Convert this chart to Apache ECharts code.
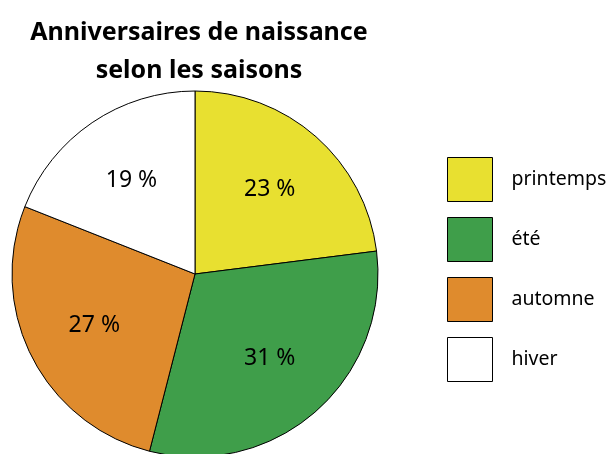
<!DOCTYPE html>
<html>
<head>
<meta charset="utf-8">
<script src="https://cdn.jsdelivr.net/npm/echarts@6/dist/echarts.min.js"></script>
<style>
  html, body { margin: 0; padding: 0; background: #fff; }
  #chart { width: 613px; height: 454px; }
</style>
</head>
<body>
<div id="chart"></div>
<script>
var seasons = ['printemps', 'été', 'automne', 'hiver'];
var percents = [23, 31, 27, 19];
var colors = ['#E8E030', '#3F9E4A', '#DF8B2D', '#FFFFFF'];

var myChart = echarts.init(document.getElementById('chart'));

var pieData = [];
var labelData = [];
seasons.forEach(function (name, i) {
    pieData.push({
        name: name,
        value: percents[i],
        itemStyle: { color: colors[i] }
    });
    labelData.push({ name: name, value: percents[i] });
});

var option = {
    animation: false,
    title: {
        text: 'Anniversaires de naissance\nselon les saisons',
        left: 194,
        textAlign: 'center',
        top: 9,
        textStyle: {
            fontFamily: 'Noto Sans',
            fontWeight: 'bold',
            fontSize: 25,
            lineHeight: 38,
            color: '#000'
        }
    },
    legend: {
        orient: 'vertical',
        left: 447,
        top: 157,
        padding: 0,
        itemWidth: 45,
        itemHeight: 44,
        itemGap: 15,
        icon: 'rect',
        data: seasons,
        itemStyle: { borderColor: '#000', borderWidth: 1 },
        textStyle: {
            fontFamily: 'Noto Sans',
            fontSize: 19.5,
            color: '#000',
            padding: [0, 0, 0, 14]
        }
    },
    series: [
        {
            name: 'saisons',
            type: 'pie',
            center: [195, 274],
            radius: [0, 183],
            startAngle: 90,
            clockwise: true,
            label: { show: false },
            labelLine: { show: false },
            itemStyle: { borderColor: '#000', borderWidth: 1 },
            data: pieData
        },
        {
            name: 'etiquettes',
            type: 'pie',
            silent: true,
            legendHoverLink: false,
            center: [195, 274],
            radius: [37, 183],
            startAngle: 90,
            clockwise: true,
            itemStyle: { color: 'rgba(0,0,0,0)', borderWidth: 0 },
            label: {
                show: true,
                position: 'inside',
                formatter: '{c} %',
                fontFamily: 'Noto Sans',
                fontSize: 23,
                color: '#000'
            },
            labelLine: { show: false },
            data: labelData
        }
    ]
};

myChart.setOption(option);
</script>
</body>
</html>
